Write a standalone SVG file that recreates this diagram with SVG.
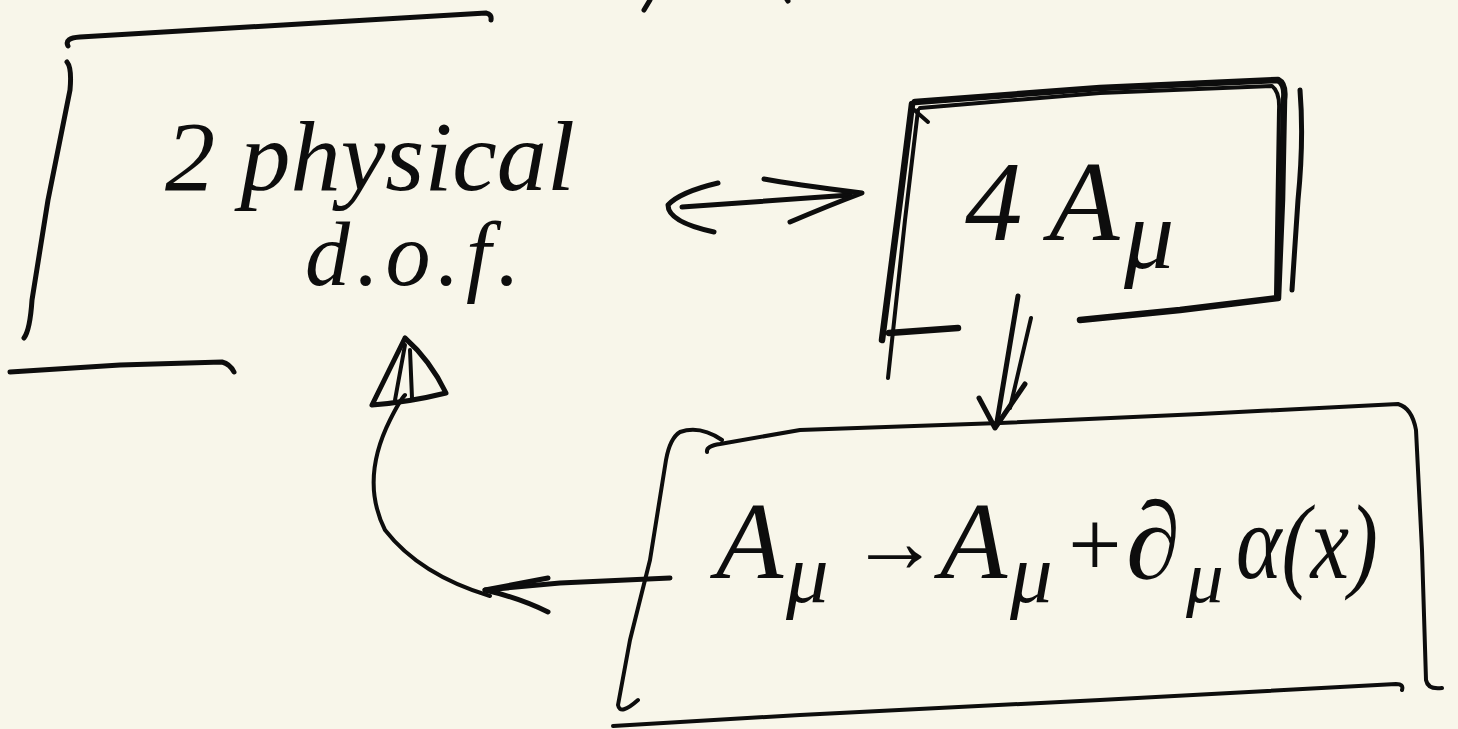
<svg xmlns="http://www.w3.org/2000/svg" width="1458" height="729" viewBox="0 0 1458 729">
  <defs>
    <style>
      .ink { fill: none; stroke: #0d0d0d; stroke-width: 5; stroke-linecap: round; stroke-linejoin: round; }
      .thin { stroke-width: 4; }
      .bold { stroke-width: 6.5; }
      .hand { font-family: "Liberation Serif", "DejaVu Serif", serif; font-style: italic; fill: #0d0d0d; }
    </style>
  </defs>
  <rect width="1458" height="729" fill="#f8f6ea"/>

  <!-- cut-off strokes at top edge -->
  <path class="ink" d="M644,10 L650,0"/>
  <path class="ink" d="M786,-2 L788,1"/>

  <g id="node-physical-dof">
    <path class="ink" d="M68,46 Q64,38 80,37 L300,24 L486,13 Q492,14 491,20"/>
    <path class="ink" d="M67,62 Q72,68 70,90 L48,200 L32,300 Q30,330 24,338"/>
    <path class="ink" d="M10,372 L120,365 L222,362 Q230,364 234,372"/>
    <text class="hand" x="165" y="190" font-size="100" textLength="410" lengthAdjust="spacingAndGlyphs">2 physical</text>
    <text class="hand" x="305" y="285" font-size="90" textLength="215" lengthAdjust="spacing">d.o.f.</text>
  </g>

  <g id="node-4A">
    <path class="ink bold" d="M915,102 L1100,88 L1278,80 Q1286,84 1284,100 L1282,200 L1278,298 L1180,310 L1080,320"/>
    <path class="ink thin" d="M920,108 L1100,93 L1272,86 Q1280,92 1279,110 L1276,295"/>
    <path class="ink" d="M1300,90 Q1304,140 1298,200 L1292,290"/>
    <path class="ink bold" d="M912,104 L900,200 L882,340"/>
    <path class="ink thin" d="M918,110 L905,220 L888,378"/>
    <path class="ink bold" d="M889,333 L958,328"/>
    <path class="ink thin" d="M912,108 L928,122"/>
    <text class="hand" x="965" y="240" font-size="115">4 A</text>
    <text class="hand" x="1124" y="268" font-size="100">μ</text>
  </g>

  <g id="node-gauge">
    <path class="ink thin" d="M722,440 Q700,425 680,432 Q670,438 666,460 L650,560 L630,640 L618,705 Q620,716 638,700"/>
    <path class="ink thin" d="M707,452 Q706,446 720,444 L800,430 L1000,423 L1200,414 L1398,404 Q1412,408 1416,430 L1422,550 L1426,680 Q1428,690 1442,688"/>
    <path class="ink thin" d="M613,726 L800,715 L1100,700 L1396,684 Q1404,684 1402,690"/>
    <text class="hand" x="716" y="578" font-size="110">A</text>
    <text class="hand" x="786" y="602" font-size="85">μ</text>
    <text class="hand" x="850" y="572" font-size="90">→</text>
    <text class="hand" x="940" y="578" font-size="110">A</text>
    <text class="hand" x="1010" y="602" font-size="85">μ</text>
    <text class="hand" x="1062" y="576" font-size="95">+</text>
    <text class="hand" x="1126" y="578" font-size="110">∂</text>
    <text class="hand" x="1186" y="602" font-size="75">μ</text>
    <text class="hand" x="1236" y="578" font-size="105" textLength="142" lengthAdjust="spacingAndGlyphs">α(x)</text>
  </g>

  <g id="connectors">
    <!-- double-headed horizontal arrow -->
    <path class="ink" d="M682,207 L850,195"/>
    <path class="ink" d="M718,183 Q680,192 668,205 Q668,222 714,232"/>
    <path class="ink" d="M764,179 Q790,184 862,193 Q830,205 790,222"/>
    <!-- double down arrow -->
    <path class="ink" d="M1018,296 L997,422"/>
    <path class="ink thin" d="M1031,318 L1010,408"/>
    <path class="ink" d="M979,398 L995,428 L1025,384"/>
    <!-- curved arrow back up to physical dof -->
    <path class="ink" d="M670,578 L560,583 L485,590"/>
    <path class="ink" d="M548,578 L485,590 Q520,598 548,612"/>
    <path class="ink thin" d="M490,596 Q420,575 385,530 Q360,480 390,420 Q400,400 405,395"/>
    <path class="ink" d="M405,338 L372,405 Q410,402 446,393 Q430,360 405,338 Z"/>
    <path class="ink thin" d="M405,345 L395,400 M410,350 L412,398"/>
  </g>
</svg>
